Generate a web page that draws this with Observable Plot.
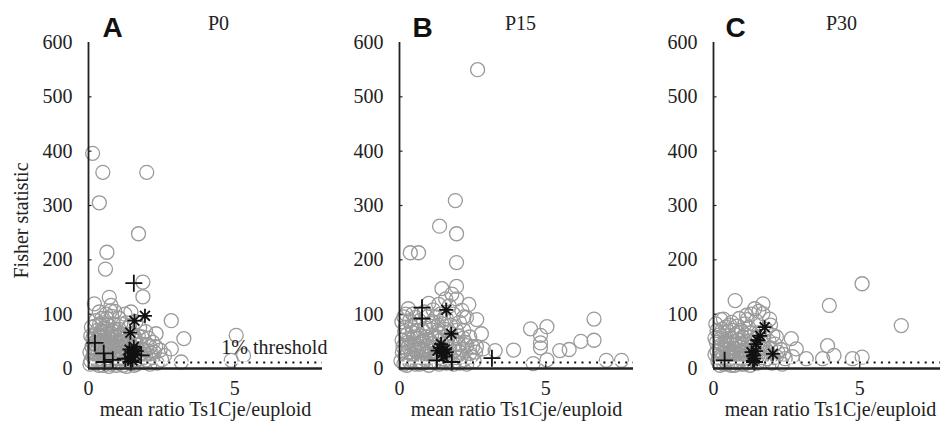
<!DOCTYPE html>
<html><head><meta charset="utf-8">
<script src="https://cdn.jsdelivr.net/npm/d3@7"></script>
<script src="https://cdn.jsdelivr.net/npm/@observablehq/plot@0.6"></script>
<style>
html,body{margin:0;padding:0;background:#fff;}
#wrap{position:relative;width:940px;height:421px;overflow:hidden;background:#fff;}
#wrap > div{position:absolute;top:0;width:322px;height:421px;}
#wrap svg{max-width:none !important;}
</style></head><body><div id="wrap"></div>
<script>
// ---------- data ----------
const panelLetters = ["A", "B", "C"];
const panelTitles = ["P0", "P15", "P30"];
const yTicks = [0, 100, 200, 300, 400, 500, 600];
const xTicks = [0, 5];
const threshold = 11;
const thresholdLabel = "1% threshold";
const xLabel = "mean ratio Ts1Cje/euploid";
const yLabel = "Fisher statistic";

const p0Circles = [[0.14,396],[0.49,361],[0.37,305],[1.99,361],[0.63,214],[0.58,183],[1.71,248],[1.86,159],[1.86,132],[2.83,88],[2.31,64],[3.26,55],[2.83,36],[3.17,12],[5.05,61],[5.3,24],[4.88,15],
[0.2,119],[0.37,104],[0.71,131],[0.77,116],[0.6,100],[0.25,88],[0.45,92],[0.9,105],[1.05,92],[1.25,100],[1.45,104],[1.62,86],[1.3,84],[0.85,82],[0.1,76],[1.75,75],[1.95,68],
[0.3,70],[0.5,74],[0.65,80],[0.85,68],[1.05,72],[1.2,62],[1.4,78],[1.7,60],[2.05,56],[2.2,48],[0.15,56],[0.4,60],[0.55,52],[0.75,56],[0.95,50],[1.1,48],[1.3,45],[1.55,52],[1.8,45],[2.1,40],[2.45,34],[0.25,44],[0.5,40],[0.65,64],[0.8,46],[1.0,60],[1.2,38],[1.5,40],[1.9,34],
[0.05,30],[0.2,36],[0.3,24],[0.45,32],[0.6,28],[0.72,38],[0.85,26],[1.0,34],[1.15,24],[1.35,30],[1.6,26],[1.75,18],[1.95,26],[2.2,20],[2.5,16],[0.08,14],[0.25,10],[0.4,18],[0.55,12],[0.65,20],[0.8,14],[0.95,18],[1.05,10],[1.25,14],[1.45,10],[1.65,8],[1.9,12],[2.1,8],[2.35,10],[0.35,48],[0.45,22],[0.75,8],[0.15,22],[0.9,40],[1.1,18],[0.6,44],[0.35,6],[0.95,6],[1.3,4],[1.7,36],[2.0,16],[0.7,16],[0.4,36],[0.2,62],[0.55,68],[1.15,54],
[0.12,40],[0.18,28],[0.28,52],[0.32,34],[0.38,14],[0.42,68],[0.48,28],[0.52,58],[0.58,36],[0.62,16],[0.68,50],[0.72,26],[0.78,64],[0.82,36],[0.88,20],[0.92,56],[0.98,28],[1.02,44],[1.08,30],[1.12,64],[1.18,20],[1.22,50],[1.28,24],[1.32,58],[1.38,14],[1.42,44],[1.48,64],[1.52,20],[1.58,58],[1.62,44],[1.68,16],[1.78,28],[1.82,58],[1.88,20],[2.0,44],[2.15,28],[2.3,40],[0.08,60],[0.22,78],[0.38,82],[0.62,92],[0.8,96],[1.1,82],[0.28,16],[0.5,6],[0.7,4],[1.18,6],[1.55,6],[0.05,8],[0.35,58],[0.62,72],[0.9,72],[1.08,40],[0.18,46],[0.48,84],[2.25,30],[2.6,24],[0.75,106]];
const p0Plus = [[1.55,157],[0.22,47],[0.52,28],[0.55,12],[0.83,16],[1.26,18],[1.8,24],[1.45,12]];
const p0Stars = [[1.93,97],[1.57,88],[1.43,66],[1.4,35],[1.5,30],[1.55,40],[1.45,22],[1.6,25],[1.35,18],[1.5,15],[1.65,32]];

const p15Circles = [[2.67,550],[1.91,309],[1.37,262],[1.95,248],[0.37,213],[0.65,213],[1.95,195],[1.95,151],[1.45,147],[1.95,128],[2.37,118],[1.34,118],[2.29,94],[1.79,137],[2.13,107],[2.64,90],[2.8,64],[3.27,33],[2.86,36],[2.63,40],[3.9,34],[4.48,73],[5.04,77],[4.82,61],[4.82,47],[4.82,38],[4.57,9],[5.04,16],[5.48,33],[5.8,35],[6.2,50],[6.65,52],[6.65,91],[7.07,15],[7.59,15],
[0.2,76],[0.09,52],[1.45,82],[0.15,95],[0.35,88],[0.55,80],[0.8,70],[1.05,78],[1.25,95],[1.6,92],[1.85,100],[2.05,85],[2.2,70],[2.4,58],[0.1,30],[0.25,62],[0.45,66],[0.6,55],[0.9,58],[1.1,62],[1.3,68],[1.55,72],[1.75,80],[2.0,60],[2.25,48],[2.5,40],[0.3,40],[0.5,44],[0.7,48],[0.95,42],[1.15,46],[1.4,52],[1.65,55],[1.9,45],[2.15,35],[2.4,28],[0.05,14],[0.2,22],[0.4,26],[0.6,30],[0.75,20],[0.9,28],[1.05,24],[1.25,30],[1.45,18],[1.7,24],[1.95,20],[2.2,16],[2.55,14],[0.15,8],[0.35,12],[0.55,8],[0.8,10],[1.0,6],[1.2,12],[1.6,10],[1.85,8],[2.3,8],[0.65,36],[1.35,36],[0.45,100],[0.95,95],[1.15,108],[1.7,115],[0.28,48],[0.85,34],[1.5,28],[2.05,30],
[0.12,40],[0.18,68],[0.28,30],[0.32,56],[0.38,16],[0.42,44],[0.48,58],[0.52,20],[0.58,70],[0.62,42],[0.68,14],[0.72,60],[0.78,34],[0.82,52],[0.88,16],[0.92,74],[0.98,36],[1.02,52],[1.08,14],[1.12,86],[1.18,38],[1.22,58],[1.28,22],[1.32,80],[1.4,64],[1.48,44],[1.52,90],[1.58,16],[1.62,46],[1.68,66],[1.72,36],[1.8,54],[1.88,32],[1.95,70],[2.02,44],[2.1,22],[2.18,56],[2.3,42],[2.45,22],[2.6,30],[0.08,86],[0.22,100],[0.4,78],[0.68,88],[0.85,104],[1.4,100],[2.2,95],[0.25,6],[0.5,34],[0.7,8],[1.1,32],[1.35,8],[1.9,14],[2.05,10],[0.55,94],[1.0,120],[1.58,128],[0.3,110]];
const p15Plus = [[0.77,112],[0.77,92],[3.16,19],[1.28,15],[1.79,12]];
const p15Stars = [[1.6,108],[1.77,64],[1.3,33],[1.38,38],[1.45,28],[1.55,35],[1.5,22],[1.62,30],[1.42,45]];

const p30Circles = [[5.08,156],[3.96,116],[6.42,79],[3.9,42],[4.12,24],[3.73,18],[4.75,18],[5.08,21],[2.66,55],[2.83,36],[2.7,22],[3.17,18],[0.74,125],[1.69,119],[1.41,110],[1.13,98],[1.69,101],[0.34,91],[0.62,85],[1.07,82],[1.92,91],[0.12,70],[2.03,61],
[0.3,72],[0.5,68],[0.75,62],[0.95,70],[1.2,75],[1.45,88],[1.8,72],[2.1,45],[0.1,48],[0.25,55],[0.45,50],[0.6,45],[0.85,52],[1.05,48],[1.25,58],[1.55,66],[1.9,50],[2.3,35],[0.05,26],[0.2,34],[0.4,38],[0.55,30],[0.7,36],[0.9,32],[1.1,34],[1.3,40],[1.6,38],[1.85,30],[2.15,22],[2.45,18],[0.15,14],[0.3,20],[0.5,16],[0.65,22],[0.8,12],[1.0,18],[1.2,14],[1.5,10],[1.75,14],[2.0,10],[2.35,8],[0.35,8],[0.6,6],[0.95,8],[1.15,24],[0.45,26],[0.75,44],[1.0,58],[0.2,62],[1.35,50],[1.7,46],[0.55,80],
[0.12,32],[0.18,20],[0.28,44],[0.32,28],[0.38,14],[0.42,60],[0.48,36],[0.52,22],[0.58,56],[0.62,32],[0.68,14],[0.72,50],[0.78,26],[0.82,66],[0.88,40],[0.92,18],[0.98,44],[1.02,28],[1.08,62],[1.12,12],[1.18,44],[1.22,30],[1.28,66],[1.32,18],[1.4,36],[1.48,58],[1.52,24],[1.58,44],[1.65,20],[1.72,60],[1.78,36],[1.82,18],[1.95,38],[2.05,20],[2.2,30],[2.4,26],[0.08,82],[0.25,90],[0.42,76],[0.65,70],[0.88,92],[1.3,100],[1.55,105],[0.22,6],[0.48,8],[0.72,6],[1.05,8],[1.25,6],[0.38,46],[0.8,78],[1.15,90],[1.95,80],[2.15,58],[0.05,56]];
const p30Plus = [[0.38,15],[1.4,12]];
const p30Stars = [[1.75,76],[1.6,60],[1.5,52],[1.45,45],[2.03,27],[1.36,24],[1.3,30],[1.4,18],[1.45,32],[1.35,14]];

// ---------- layout / style ----------
const panels = [
  {left: 0,   circles: p0Circles,  plus: p0Plus,  stars: p0Stars,  titleDx: 130, letterDx: 14, first: true},
  {left: 311, circles: p15Circles, plus: p15Plus, stars: p15Stars, titleDx: 121, letterDx: 13, first: false},
  {left: 625, circles: p30Circles, plus: p30Plus, stars: p30Stars, titleDx: 128, letterDx: 12, first: false}
];

const star8 = {draw(ctx, size) {
  const r = Math.sqrt(size / Math.PI), d = r * Math.SQRT1_2;
  ctx.moveTo(-r, 0); ctx.lineTo(r, 0); ctx.moveTo(0, -r); ctx.lineTo(0, r);
  ctx.moveTo(-d, -d); ctx.lineTo(d, d); ctx.moveTo(-d, d); ctx.lineTo(d, -d);
}};
const plusSym = {draw(ctx, size) {
  const r = Math.sqrt(size / Math.PI);
  ctx.moveTo(-r, 0); ctx.lineTo(r, 0); ctx.moveTo(0, -r); ctx.lineTo(0, r);
}};

const serif = "Liberation Serif";
const ink = "#222";
const wrap = document.getElementById("wrap");
const txt = {fill: ink, fontFamily: serif, fontSize: 20};

panels.forEach((p, i) => {
  const marks = [
    Plot.dot(p.circles, {x: d => d[0], y: d => d[1], r: 7, stroke: "#9a9a9a", strokeWidth: 1.3, fill: "none"}),
    Plot.ruleY([threshold], {stroke: "white", strokeWidth: 2}),
    Plot.ruleY([threshold], {stroke: "#111", strokeWidth: 2, strokeDasharray: "2,5.3"}),
    Plot.dot(p.plus, {x: d => d[0], y: d => d[1], r: 8.5, symbol: plusSym, stroke: "#111", strokeWidth: 1.8, fill: "none"}),
    Plot.dot(p.stars, {x: d => d[0], y: d => d[1], r: 7, symbol: star8, stroke: "#111", strokeWidth: 1.8, fill: "none"}),
    Plot.ruleX([0], {y1: yTicks[0], y2: yTicks[yTicks.length - 1], stroke: ink, strokeWidth: 1.8}),
    Plot.ruleY([0], {stroke: ink, strokeWidth: 2.6}),
    Plot.ruleY(yTicks.slice(1, -1), {x1: 0, x2: 0.12, stroke: ink, strokeWidth: 1.2}),
    Plot.ruleX(xTicks.slice(1), {y1: 0, y2: 7, stroke: ink, strokeWidth: 1.2}),
    // tick labels
    Plot.text(yTicks, {x: xTicks[0], y: d => d, text: d => String(d), textAnchor: "end", lineAnchor: "middle", dx: -16, ...txt}),
    Plot.text(xTicks, {x: d => d, y: yTicks[0], text: d => String(d), textAnchor: "middle", lineAnchor: "top", dy: 12, ...txt}),
    Plot.text([panelLetters[i]], {frameAnchor: "top-left", text: d => d, dx: p.letterDx, dy: -14.3,
      textAnchor: "start", lineAnchor: "middle", fontFamily: "Liberation Sans", fontWeight: "bold", fontSize: 28, fill: "#111"}),
    Plot.text([panelTitles[i]], {frameAnchor: "top-left", text: d => d, dx: p.titleDx, dy: -19.4,
      textAnchor: "middle", lineAnchor: "middle", ...txt}),
    Plot.text([xLabel], {frameAnchor: "bottom", text: d => d, dy: 41, lineAnchor: "middle", ...txt})
  ];
  if (p.first) {
    marks.push(Plot.text([yLabel], {frameAnchor: "left", text: d => d, rotate: -90, dx: -67, dy: 15,
      textAnchor: "middle", lineAnchor: "middle", ...txt}));
    marks.push(Plot.text([{x: 4.54, y: threshold, t: thresholdLabel}], {x: "x", y: "y", text: "t", dy: -15,
      textAnchor: "start", lineAnchor: "middle", ...txt}));
  }
  const chart = Plot.plot({
    width: 322, height: 421,
    marginLeft: 88, marginRight: 0, marginTop: 42, marginBottom: 53,
    x: {domain: [0, 8], axis: null},
    y: {domain: [0, 600], axis: null},
    style: {fontFamily: serif, fontSize: "20px", color: ink, background: "transparent", overflow: "visible", maxWidth: "none"},
    marks
  });
  const holder = document.createElement("div");
  holder.style.left = p.left + "px";
  holder.appendChild(chart);
  wrap.appendChild(holder);
});
</script></body></html>
